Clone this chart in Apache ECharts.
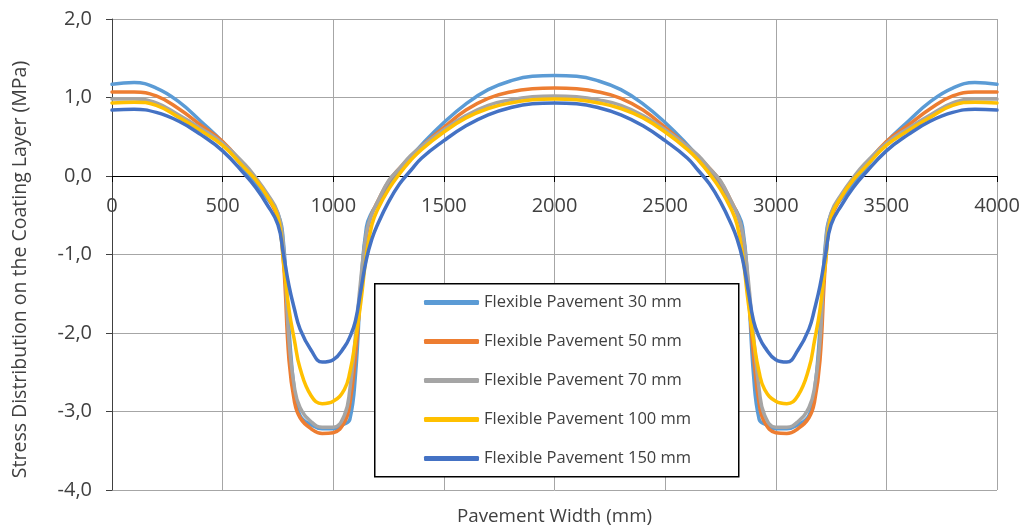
<!DOCTYPE html>
<html>
<head>
<meta charset="utf-8">
<script src="https://cdn.jsdelivr.net/npm/echarts@6/dist/echarts.min.js"></script>
<style>html,body{margin:0;padding:0;background:#fff;}#c{width:1023px;height:529px;}</style>
</head>
<body>
<div id="c"></div>
<script>
var widths = [0,100,200,300,400,500,600,650,700,750,775,800,825,850,900,950,1000,1050,1075,1100,1125,1150,1175,1200,1250,1300,1350,1400,1500,1600,1700,1800,1900,2000,
  2100,2200,2300,2400,2500,2600,2650,2700,2750,2800,2825,2850,2875,2900,2925,2950,3000,3050,3100,3150,3175,3200,3225,3250,3300,3350,3400,3500,3600,3700,3800,3900,4000];

var seriesNames = ['Flexible Pavement 30 mm','Flexible Pavement 50 mm','Flexible Pavement 70 mm','Flexible Pavement 100 mm','Flexible Pavement 150 mm'];

var pave30 = [1.17,1.19,1.12,0.95,0.70,0.43,0.08,-0.10,-0.28,-0.48,-0.85,-1.95,-2.75,-3.05,-3.17,-3.22,-3.22,-3.16,-3.10,-2.55,-1.40,-0.65,-0.46,-0.36,-0.12,0.07,0.24,0.40,0.68,0.92,1.10,1.21,1.27,1.28,
  1.27,1.21,1.10,0.92,0.68,0.40,0.24,0.07,-0.12,-0.36,-0.46,-0.65,-1.40,-2.55,-3.10,-3.16,-3.22,-3.22,-3.17,-3.05,-2.75,-1.95,-0.85,-0.48,-0.28,-0.10,0.08,0.43,0.70,0.95,1.12,1.19,1.17];
var pave50 = [1.07,1.07,1.02,0.86,0.65,0.44,0.12,-0.05,-0.25,-0.55,-1.10,-2.35,-2.88,-3.08,-3.22,-3.28,-3.27,-3.14,-2.90,-2.30,-1.45,-0.75,-0.48,-0.33,-0.07,0.10,0.25,0.38,0.62,0.84,0.99,1.07,1.11,1.12,
  1.11,1.07,0.99,0.84,0.62,0.38,0.25,0.10,-0.07,-0.33,-0.48,-0.75,-1.45,-2.30,-2.90,-3.14,-3.27,-3.28,-3.22,-3.08,-2.88,-2.35,-1.10,-0.55,-0.25,-0.05,0.12,0.44,0.65,0.86,1.02,1.07,1.07];
var pave70 = [0.98,0.98,0.93,0.78,0.61,0.42,0.15,-0.02,-0.22,-0.47,-0.90,-2.10,-2.70,-2.95,-3.13,-3.20,-3.20,-3.05,-2.72,-2.05,-1.30,-0.72,-0.48,-0.33,-0.06,0.10,0.26,0.38,0.59,0.77,0.90,0.97,1.01,1.02,
  1.01,0.97,0.90,0.77,0.59,0.38,0.26,0.10,-0.06,-0.33,-0.48,-0.72,-1.30,-2.05,-2.72,-3.05,-3.20,-3.20,-3.13,-2.95,-2.70,-2.10,-0.90,-0.47,-0.22,-0.02,0.15,0.42,0.61,0.78,0.93,0.98,0.98];
var pave100 = [0.93,0.94,0.90,0.75,0.58,0.39,0.10,-0.05,-0.25,-0.52,-1.10,-1.70,-2.10,-2.45,-2.80,-2.90,-2.87,-2.72,-2.50,-2.10,-1.60,-1.00,-0.62,-0.43,-0.17,0.03,0.20,0.34,0.56,0.74,0.86,0.93,0.97,0.98,
  0.97,0.93,0.86,0.74,0.56,0.34,0.20,0.03,-0.17,-0.43,-0.62,-1.00,-1.60,-2.10,-2.50,-2.72,-2.87,-2.90,-2.80,-2.45,-2.10,-1.70,-1.10,-0.52,-0.25,-0.05,0.10,0.39,0.58,0.75,0.90,0.94,0.93];
var pave150 = [0.84,0.85,0.81,0.70,0.53,0.32,0.02,-0.15,-0.36,-0.62,-1.00,-1.40,-1.70,-1.95,-2.22,-2.37,-2.34,-2.18,-2.05,-1.85,-1.45,-1.06,-0.80,-0.62,-0.33,-0.10,0.07,0.23,0.45,0.64,0.78,0.87,0.92,0.93,
  0.92,0.87,0.78,0.64,0.45,0.23,0.07,-0.10,-0.33,-0.62,-0.80,-1.06,-1.45,-1.85,-2.05,-2.18,-2.34,-2.37,-2.22,-1.95,-1.70,-1.40,-1.00,-0.62,-0.36,-0.15,0.02,0.32,0.53,0.70,0.81,0.85,0.84];

var seriesValues = [pave30, pave50, pave70, pave100, pave150];
var colors = ['#5B9BD5','#ED7D31','#A5A5A5','#FFC000','#4472C4'];

var chart = echarts.init(document.getElementById('c'), null, {renderer:'canvas'});
var font = '"Open Sans", sans-serif';

var series = seriesNames.map(function(name, i){
  return {
    name: name,
    type: 'line',
    data: widths.map(function(x, k){ return [x, seriesValues[i][k]]; }),
    smooth: 0.45,
    showSymbol: false,
    symbol: 'none',
    lineStyle: {width: 3.5, color: colors[i], cap: 'round', join: 'round'},
    itemStyle: {color: colors[i]},
    z: 2 + i
  };
});

chart.setOption({
  animation: false,
  backgroundColor: '#ffffff',
  color: colors,
  grid: {left: 112, right: 26, top: 19, bottom: 39, containLabel: false, outerBoundsMode: 'none'},
  graphic: [{
    type: 'rect', left: 374, top: 283, z: 10,
    shape: {width: 364, height: 193},
    style: {fill: '#ffffff', stroke: '#000000', lineWidth: 1.5}
  }],
  legend: {
    orient: 'vertical', left: 424, top: 294, z: 20,
    itemWidth: 55, itemHeight: 5, itemGap: 22,
    icon: 'roundRect',
    padding: 0,
    textStyle: {fontFamily: font, fontSize: 16.5, color: '#404040', lineHeight: 17},
    data: seriesNames
  },
  xAxis: {
    type: 'value', min: 0, max: 4000, interval: 500,
    offset: -314,
    name: 'Pavement Width (mm)', nameLocation: 'middle', nameGap: 331,
    nameTextStyle: {fontFamily: font, fontSize: 18.8, color: '#404040'},
    axisLine: {onZero: false, lineStyle: {color: '#000000', width: 1}},
    axisTick: {show: true, inside: false, length: 6, lineStyle: {color: '#000000'}},
    axisLabel: {fontFamily: font, fontSize: 20, color: '#404040', margin: 20,
      formatter: function(v){ return String(v); }},
    splitLine: {show: true, lineStyle: {color: '#A6A6A6', width: 1}}
  },
  yAxis: {
    type: 'value', min: -4, max: 2, interval: 1,
    name: 'Stress Distribution on the Coating Layer (MPa)', nameLocation: 'middle', nameGap: 82,
    nameTextStyle: {fontFamily: font, fontSize: 19.5, color: '#404040', padding: [0, 30, 0, 0]},
    axisLine: {show: true, onZero: false, lineStyle: {color: '#404040', width: 1}},
    axisTick: {show: true, inside: false, length: 6, lineStyle: {color: '#404040'}},
    axisLabel: {fontFamily: font, fontSize: 20, color: '#404040', margin: 20,
      formatter: function(v){ return v.toFixed(1).replace('.', ','); }},
    splitLine: {show: true, lineStyle: {color: '#A6A6A6', width: 1}}
  },
  series: series
});
</script>
</body>
</html>
